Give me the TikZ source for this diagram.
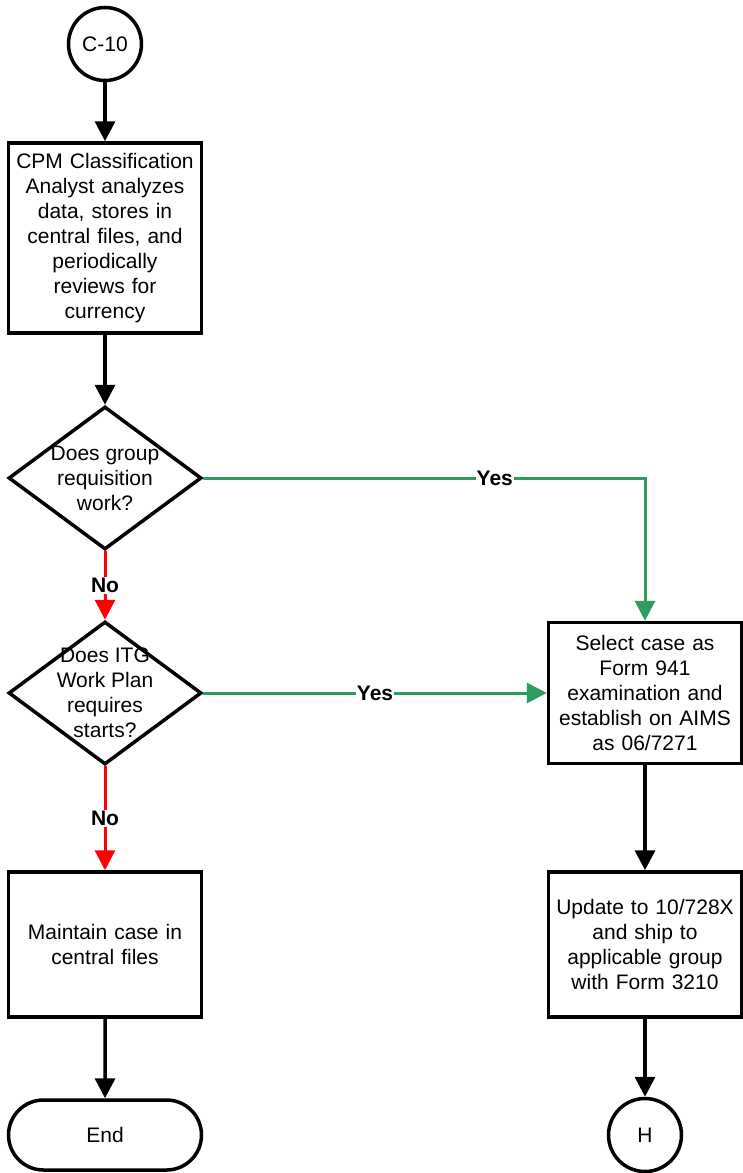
\documentclass[tikz,border=0pt]{standalone}
\usepackage{fontspec}
\setmainfont{Liberation Sans}
\usetikzlibrary{shapes.geometric,shapes.misc,arrows.meta}
\definecolor{yesgreen}{RGB}{46,155,95}
\definecolor{nored}{RGB}{255,0,0}

\begin{document}
\begin{tikzpicture}[x=1pt,y=-1pt,font=\fontsize{21}{25}\selectfont,
        procbox/.style={draw,line width=3.5pt,minimum width=193pt,minimum height=145pt,text width=189pt,align=center,inner sep=0pt},
        decision/.style={draw,diamond,line width=3.5pt,minimum width=193pt,minimum height=143pt,inner sep=0pt},
        connector/.style={draw,circle,line width=3.5pt,minimum size=73pt,inner sep=0pt},
        terminal/.style={draw,rounded rectangle,line width=3.5pt,minimum width=193pt,minimum height=70pt,inner sep=0pt},
        flow/.style={-{Triangle[width=20pt,length=20pt]},line width=3.5pt},
        yesline/.style={-{Triangle[width=20pt,length=20pt]},line width=3pt,yesgreen},
        noline/.style={-{Triangle[width=20pt,length=20pt]},line width=3pt,nored},
        lbl/.style={fill=white,text=black,font=\fontsize{21}{25}\selectfont\bfseries,inner sep=1pt}]
        \useasboundingbox(0,0)rectangle(743,1173);

        \node[connector](c10)at(105,44){C-10};
        \node[procbox,minimum height=190pt](box1)at(105,238){CPM Classification\\Analyst analyzes\\data, stores in\\central files, and\\periodically\\reviews for\\currency};
        \node[decision](q1)at(105,478){};
        \node[align=center](q1txt)at(q1){Does group\\requisition\\work?};
        \node[decision](q2)at(105,693){};
        \node[align=center](q2txt)at(q2){Does ITG\\Work Plan\\requires\\starts?};
        \node[procbox](box3)at(105,944.5){Maintain case in\\central files};
        \node[terminal](finish)at(105,1135){End};
        \node[procbox,minimum height=141pt](box2)at(645,693){Select case as\\Form 941\\examination and\\establish on AIMS\\as 06/7271};
        \node[procbox](box4)at(645,944.5){Update to 10/728X\\and ship to\\applicable group\\with Form 3210};
        \node[connector](h)at(645,1135){H};

        \draw[flow](c10)--(box1);
        \draw[flow](box1)--(q1);
        \draw[noline](q1)--(q2)node[lbl,midway](no1){No};
        \draw[yesline](q1)-|(box2)node[lbl,pos=.33](yes1){Yes};
        \draw[yesline](q2)--(box2)node[lbl,midway](yes2){Yes};
        \draw[noline](q2)--(box3)node[lbl,midway](no2){No};
        \draw[flow](box3)--(finish);
        \draw[flow](box2)--(box4);
        \draw[flow](box4)--(h);
\end{tikzpicture}
\end{document}
